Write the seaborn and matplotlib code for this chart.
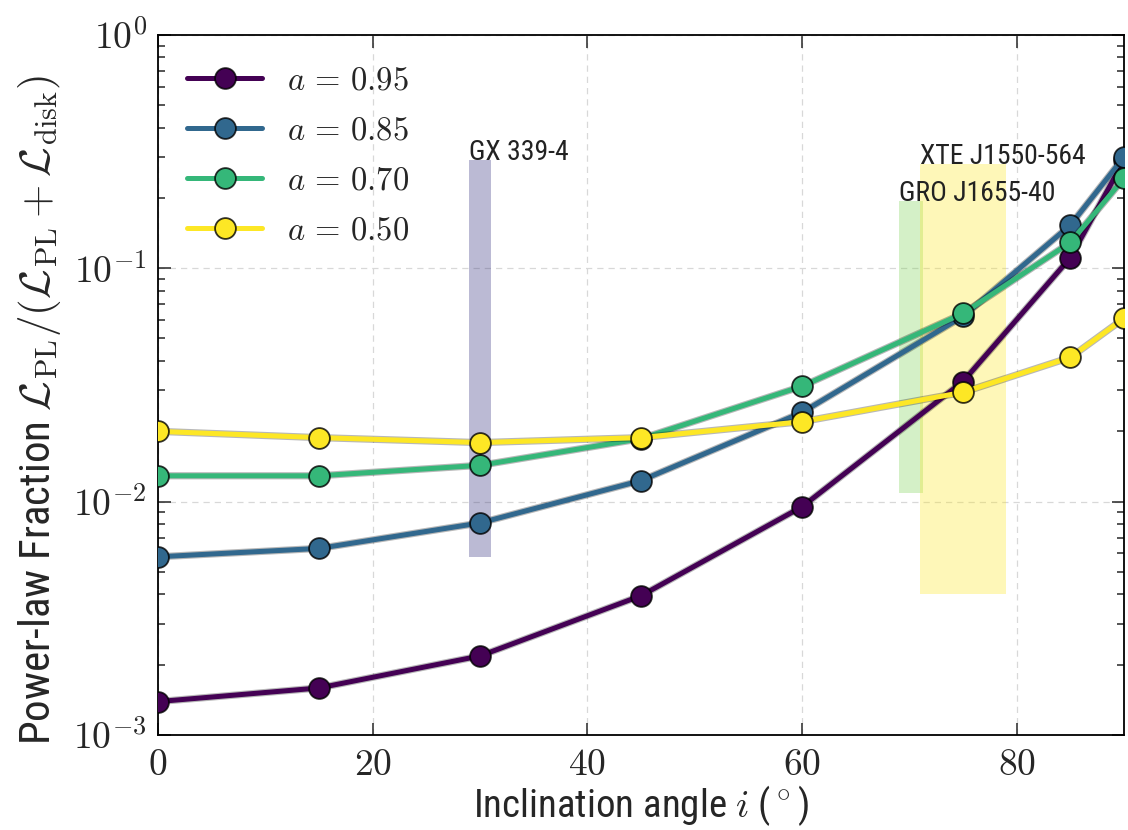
import numpy as np
import pandas as pd
import matplotlib
matplotlib.use("Agg")
import matplotlib.pyplot as plt
import matplotlib.patheffects as pe
from matplotlib.lines import Line2D
from matplotlib import font_manager
from matplotlib.ticker import FixedLocator, FuncFormatter, LogLocator, NullFormatter
import seaborn as sns

# Power-law fraction versus inclination for several spins
inclination = [0, 15, 30, 45, 60, 75, 85, 90]
spin_labels = ["0.95", "0.85", "0.70", "0.50"]
frac_a095 = [0.00139, 0.00159, 0.00218, 0.00395, 0.0095, 0.0327, 0.111, 0.29]
frac_a085 = [0.0058, 0.0063, 0.0081, 0.0123, 0.0241, 0.0622, 0.153, 0.30]
frac_a070 = [0.0129, 0.0129, 0.0143, 0.0186, 0.0312, 0.064, 0.129, 0.243]
frac_a050 = [0.0200, 0.0188, 0.0179, 0.0188, 0.0220, 0.0294, 0.0415, 0.061]

# Observed sources: inclination ranges and power-law fraction ranges
source_names = ["GX 339-4", "GRO J1655-40", "XTE J1550-564"]
source_incl_lo = [29.0, 69.0, 71.0]
source_incl_hi = [31.0, 71.3, 79.0]
source_frac_lo = [0.0058, 0.0109, 0.0040]
source_frac_hi = [0.29, 0.195, 0.28]
source_colors = ["#2e2a7a", "#7ad151", "#fde725"]

sns.set_style("ticks")

installed = {f.name for f in font_manager.fontManager.ttflist}
text_font = "DejaVu Sans"
for cand in ["Liberation Sans Narrow", "Roboto Condensed", "Open Sans Condensed", "Noto Sans"]:
    if cand in installed:
        text_font = cand
        break

plt.rcParams.update({
    "font.family": [text_font, "DejaVu Sans"],
    "mathtext.fontset": "cm",
    "axes.edgecolor": "black",
    "axes.linewidth": 1.3,
    "xtick.direction": "in",
    "ytick.direction": "in",
})

series = [frac_a095, frac_a085, frac_a070, frac_a050]
df = pd.DataFrame({
    "incl": np.tile(inclination, len(series)),
    "frac": np.concatenate(series),
    "spin": np.repeat(spin_labels, len(inclination)),
})
palette = [plt.cm.viridis(v) for v in np.linspace(0, 1, len(spin_labels))]

fig = plt.figure(figsize=(11.28, 8.3), dpi=100)
ax = fig.add_axes([0.140, 0.1145, 0.8565, 0.8435])

# shaded observational constraints
for name, x0, x1, y0, y1, c in zip(source_names, source_incl_lo, source_incl_hi,
                                   source_frac_lo, source_frac_hi, source_colors):
    ax.fill_between([x0, x1], y0, y1, color=c, alpha=0.32, lw=0, zorder=1)
    ax.text(x0, y1, name, ha="left", va="baseline", fontsize=20, color="#222222",
            zorder=20)

line_kw = dict(linewidth=3.6)
marker_kw = dict(marker="o", markersize=15, markeredgecolor=(0, 0, 0, 0.8),
                 markeredgewidth=1.3)
handles = []
for k, (spin, color) in enumerate(zip(spin_labels, palette)):
    sub = df[df["spin"] == spin]
    # line with a faint dark outline
    sns.lineplot(data=sub, x="incl", y="frac", ax=ax, color=color, zorder=3 + 2 * k,
                 path_effects=[pe.Stroke(linewidth=5.2, foreground=(0, 0, 0, 0.28)),
                               pe.Normal()], legend=False, **line_kw)
    # markers on top of their own line
    sns.lineplot(data=sub, x="incl", y="frac", ax=ax, color=color, zorder=4 + 2 * k,
                 linestyle="none", legend=False, **marker_kw)
    handles.append(Line2D([], [], color=color, **line_kw, **marker_kw))

ax.set_yscale("log")
ax.set_xlim(0, 90)
ax.set_ylim(1e-3, 1)

ax.xaxis.set_major_locator(FixedLocator([0, 20, 40, 60, 80]))
ax.xaxis.set_major_formatter(FuncFormatter(lambda v, p: rf"$\mathrm{{{v:g}}}$"))
ax.yaxis.set_major_locator(FixedLocator([1e-3, 1e-2, 1e-1, 1]))
ax.yaxis.set_major_formatter(
    FuncFormatter(lambda v, p: rf"$\mathrm{{10^{{{int(round(np.log10(v)))}}}}}$"))
ax.yaxis.set_minor_locator(LogLocator(base=10, subs=np.arange(2, 10)))
ax.yaxis.set_minor_formatter(NullFormatter())

ax.tick_params(which="both", direction="in", top=True, right=True, width=1.1)
ax.tick_params(which="major", length=9, labelsize=27, pad=8)
ax.tick_params(which="minor", length=5)

ax.grid(True, which="major", ls=(0, (5, 4)), color="#d8d8d8", lw=0.9, zorder=0)
ax.set_axisbelow(True)

ax.set_xlabel(r"Inclination angle $i$ ($^\circ$)", fontsize=28, labelpad=0)
ax.set_ylabel(
    r"Power-law Fraction $\mathcal{L}_{\rm PL}/(\mathcal{L}_{\rm PL}+\mathcal{L}_{\rm disk})$",
    fontsize=31)
ax.yaxis.set_label_coords(-0.098, 0.465)

labels = [rf"$a\,=\,\mathrm{{{s}}}$" for s in spin_labels]
ax.legend(handles, labels, loc="upper left", frameon=False, fontsize=23.5,
          handlelength=2.3, handletextpad=0.75, labelspacing=0.55,
          borderaxespad=0.3, borderpad=0.6)

fig.savefig("out.png", dpi=100)
